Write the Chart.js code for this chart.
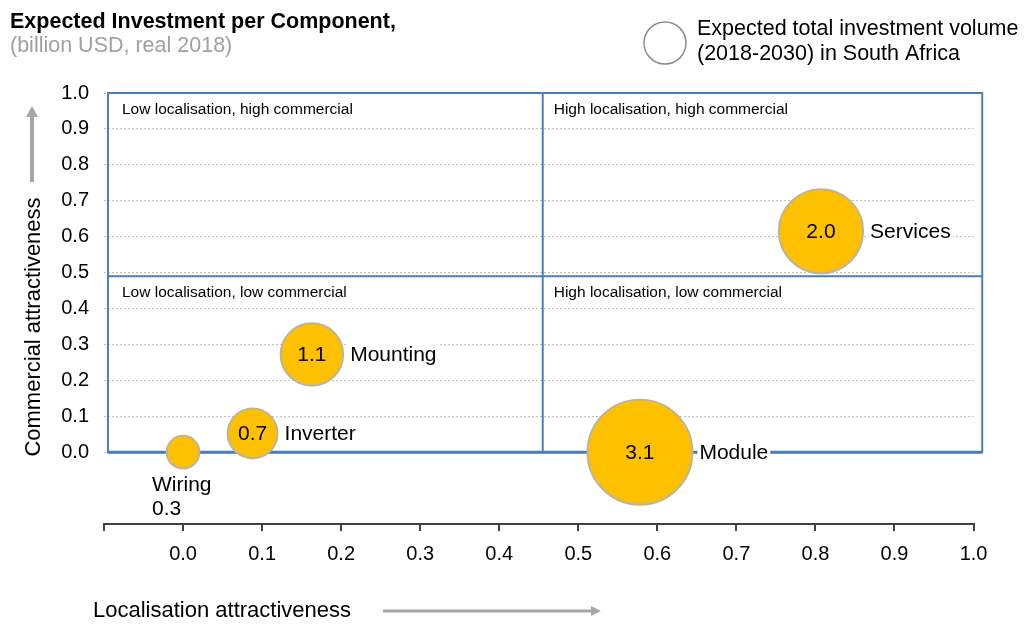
<!DOCTYPE html>
<html>
<head>
<meta charset="utf-8">
<script src="https://cdn.jsdelivr.net/npm/chart.js@4/dist/chart.umd.min.js"></script>
<style>
  body { margin: 0; background: #fff; }
</style>
</head>
<body>
<canvas id="myChart" width="1028" height="626"></canvas>
<script>
// components and their position in the matrix
var categories = ['Wiring', 'Inverter', 'Mounting', 'Services', 'Module'];
var localisation = [0.0, 0.088, 0.163, 0.807, 0.578];
var commercial = [0.0, 0.052, 0.272, 0.615, 0.0];
var investment = [0.3, 0.7, 1.1, 2.0, 3.1];
var labelSide = ['below', 'right', 'right', 'right', 'right'];

var xTickValues = [-0.1, 0.0, 0.1, 0.2, 0.3, 0.4, 0.5, 0.6, 0.7, 0.8, 0.9, 1.0];
var yTickValues = [-0.2, -0.1, 0.0, 0.1, 0.2, 0.3, 0.4, 0.5, 0.6, 0.7, 0.8, 0.9, 1.0];

var quadrantLabels = [
    'Low localisation, high commercial',
    'High localisation, high commercial',
    'Low localisation, low commercial',
    'High localisation, low commercial'
];
var quadrantSplitX = 0.455;
var quadrantSplitY = 0.49;
var boxLeft = -0.095, boxRight = 1.011;

var FONT = '"Liberation Sans", Arial, sans-serif';
var BLUE = '#4a7ebb';

function bubbleRadius(i) {
    return 29.8 * Math.sqrt(investment[i]);
}

var points = [];
categories.forEach(function (c, i) {
    points.push({ x: localisation[i], y: commercial[i] });
});

var quadrantPlugin = {
    id: 'quadrants',
    beforeDatasetsDraw: function (chart) {
        var ctx = chart.ctx, xs = chart.scales.x, ys = chart.scales.y;
        var l = xs.getPixelForValue(boxLeft), r = xs.getPixelForValue(boxRight);
        var t = ys.getPixelForValue(1.0), b = ys.getPixelForValue(0.0);
        var mx = xs.getPixelForValue(quadrantSplitX), my = ys.getPixelForValue(quadrantSplitY);
        ctx.save();
        ctx.strokeStyle = BLUE;
        ctx.lineWidth = 2;
        ctx.beginPath();
        ctx.rect(l, t, r - l, b - t);
        ctx.moveTo(mx, t); ctx.lineTo(mx, b);
        ctx.moveTo(l, my); ctx.lineTo(r, my);
        ctx.stroke();
        ctx.lineWidth = 3;
        ctx.beginPath();
        ctx.moveTo(l, b); ctx.lineTo(r, b);
        ctx.stroke();

        ctx.fillStyle = '#000';
        ctx.font = '15.5px ' + FONT;
        ctx.textBaseline = 'middle';
        ctx.textAlign = 'left';
        ctx.fillText(quadrantLabels[0], l + 14, t + 17);
        ctx.fillText(quadrantLabels[1], mx + 11, t + 17);
        ctx.fillText(quadrantLabels[2], l + 14, my + 17);
        ctx.fillText(quadrantLabels[3], mx + 11, my + 17);
        ctx.restore();
    },
    afterDatasetsDraw: function (chart) {
        var ctx = chart.ctx;
        var meta = chart.getDatasetMeta(0);
        ctx.save();
        ctx.font = '21px ' + FONT;
        ctx.textBaseline = 'middle';
        meta.data.forEach(function (pt, i) {
            var r = bubbleRadius(i);
            var val = investment[i].toFixed(1);
            ctx.fillStyle = '#000';
            if (labelSide[i] === 'below') {
                ctx.textAlign = 'left';
                ctx.fillText(categories[i], pt.x - 31, pt.y + 33);
                ctx.fillText(val, pt.x - 31, pt.y + 57);
                return;
            }
            ctx.textAlign = 'center';
            ctx.fillText(val, pt.x, pt.y + 1);
            var tx = pt.x + r + 7;
            var w = ctx.measureText(categories[i]).width;
            ctx.fillStyle = '#fff';
            ctx.fillRect(tx - 2, pt.y - 12, w + 4, 24);
            ctx.fillStyle = '#000';
            ctx.textAlign = 'left';
            ctx.fillText(categories[i], tx, pt.y + 1);
        });
        ctx.restore();
    },
    afterDraw: function (chart) {
        var ctx = chart.ctx;
        ctx.save();
        ctx.textBaseline = 'middle';
        ctx.textAlign = 'left';
        // title
        ctx.fillStyle = '#000';
        ctx.font = 'bold 21.5px ' + FONT;
        ctx.fillText('Expected Investment per Component,', 10, 22);
        ctx.fillStyle = '#a0a0a0';
        ctx.font = '21.5px ' + FONT;
        ctx.fillText('(billion USD, real 2018)', 10, 46);

        // legend
        ctx.beginPath();
        ctx.arc(665, 43, 21, 0, Math.PI * 2);
        ctx.fillStyle = '#fff';
        ctx.fill();
        ctx.strokeStyle = '#8c8c8c';
        ctx.lineWidth = 1.5;
        ctx.stroke();
        ctx.fillStyle = '#000';
        ctx.font = '21.5px ' + FONT;
        ctx.fillText('Expected total investment volume', 697, 29);
        ctx.fillText('(2018-2030) in South Africa', 697, 54);

        // axis titles
        ctx.font = '22px ' + FONT;
        ctx.fillText('Localisation attractiveness', 93, 611);
        ctx.save();
        ctx.translate(34, 327);
        ctx.rotate(-Math.PI / 2);
        ctx.textAlign = 'center';
        ctx.fillText('Commercial attractiveness', 0, 0);
        ctx.restore();

        // arrows
        ctx.strokeStyle = '#a6a6a6';
        ctx.fillStyle = '#a6a6a6';
        ctx.lineWidth = 3;
        ctx.beginPath();
        ctx.moveTo(383, 611); ctx.lineTo(592, 611);
        ctx.stroke();
        ctx.beginPath();
        ctx.moveTo(601, 611); ctx.lineTo(591, 606); ctx.lineTo(591, 616);
        ctx.closePath(); ctx.fill();

        ctx.lineWidth = 4;
        ctx.beginPath();
        ctx.moveTo(32, 182); ctx.lineTo(32, 115);
        ctx.stroke();
        ctx.beginPath();
        ctx.moveTo(32, 106); ctx.lineTo(26, 117); ctx.lineTo(38, 117);
        ctx.closePath(); ctx.fill();
        ctx.restore();
    }
};

var ctx = document.getElementById('myChart').getContext('2d');
var myChart = new Chart(ctx, {
    type: 'bubble',
    data: {
        datasets: [{
            label: 'Expected total investment volume',
            data: points,
            backgroundColor: '#ffc000',
            borderColor: '#bdb59b',
            borderWidth: 2,
            radius: function (c) { return bubbleRadius(c.dataIndex); },
            clip: false
        }]
    },
    options: {
        responsive: false,
        animation: false,
        layout: { padding: { top: 93, right: 52, left: 0, bottom: 0 } },
        plugins: {
            legend: { display: false },
            tooltip: { enabled: false }
        },
        scales: {
            x: {
                type: 'linear',
                min: -0.1,
                max: 1.0,
                afterBuildTicks: function (scale) {
                    scale.ticks = xTickValues.map(function (v) { return { value: v }; });
                },
                afterFit: function (scale) { scale.height = 102; },
                grid: {
                    drawOnChartArea: false,
                    drawTicks: true,
                    tickLength: 7,
                    color: '#404040',
                    lineWidth: 2
                },
                border: { display: true, color: '#404040', width: 2 },
                ticks: {
                    autoSkip: false,
                    maxRotation: 0,
                    padding: 11,
                    color: '#000',
                    font: { family: FONT, size: 20 },
                    callback: function (v) { return v < 0 ? '' : Number(v).toFixed(1); }
                }
            },
            y: {
                type: 'linear',
                min: -0.2,
                max: 1.0,
                afterBuildTicks: function (scale) {
                    scale.ticks = yTickValues.map(function (v) { return { value: v }; });
                },
                afterFit: function (scale) { scale.width = 104; },
                grid: {
                    drawTicks: false,
                    lineWidth: 1,
                    color: function (c) {
                        return (c.tick && c.tick.value < 0) ? 'rgba(0,0,0,0)' : '#bfbfbf';
                    }
                },
                border: { display: false, dash: [2, 2] },
                ticks: {
                    padding: 15,
                    color: '#000',
                    font: { family: FONT, size: 20 },
                    callback: function (v) { return v < 0 ? '' : Number(v).toFixed(1); }
                }
            }
        }
    },
    plugins: [quadrantPlugin]
});
</script>
</body>
</html>
